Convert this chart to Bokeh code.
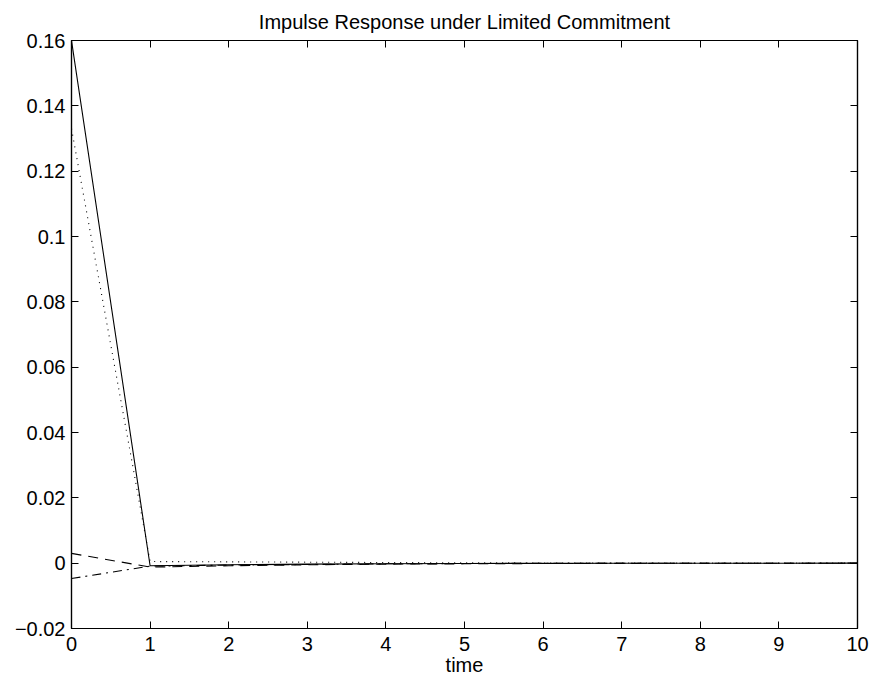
from bokeh.plotting import figure
from bokeh.models import Range1d, FixedTicker, LinearAxis
from bokeh.embed import file_html
from bokeh.resources import INLINE

time = [0, 1, 2, 3, 4, 5, 6, 7, 8, 9, 10]
solid = [0.160, -0.0008, -0.0005, -0.0003, -0.0002, -0.0001, -0.00005, -0.00003, -0.00002, -0.00001, 0.0]
dotted = [0.133, 0.0005, 0.0004, 0.0003, 0.0002, 0.0001, 0.00006, 0.00004, 0.00002, 0.00001, 0.0]
dashed = [0.003, -0.0012, -0.0008, -0.0005, -0.0003, -0.0002, -0.0001, -0.00006, -0.00003, -0.00002, -0.00001]
dashdot = [-0.0047, -0.0009, -0.0006, -0.0004, -0.0002, -0.0001, -0.00006, -0.00004, -0.00002, -0.00001, 0.0]

x_ticks = [0, 1, 2, 3, 4, 5, 6, 7, 8, 9, 10]
x_tick_labels = ["0", "1", "2", "3", "4", "5", "6", "7", "8", "9", "10"]
y_ticks = [-0.02, 0.0, 0.02, 0.04, 0.06, 0.08, 0.1, 0.12, 0.14, 0.16]
y_tick_labels = ["\u22120.02", "0", "0.02", "0.04", "0.06", "0.08", "0.1", "0.12", "0.14", "0.16"]

FONT = "Liberation Sans"

p = figure(width=875, height=681, output_backend="svg", toolbar_location=None,
           x_range=Range1d(0, 10), y_range=Range1d(-0.02, 0.16),
           title="Impulse Response under Limited Commitment",
           x_axis_label="time",
           min_border_left=71, min_border_right=18, min_border_top=40, min_border_bottom=53)
p.title.align = "center"
p.title.text_font = FONT
p.title.text_font_size = "20px"
p.title.text_font_style = "normal"
p.title.text_color = "black"
p.title.offset = 0
p.title.standoff = 16
p.xgrid.visible = False
p.ygrid.visible = False
p.outline_line_color = "black"
p.outline_line_width = 1.2
p.background_fill_color = "white"
p.border_fill_color = "white"

for ax in [p.xaxis[0], p.yaxis[0]]:
    ax.major_tick_in = 7
    ax.major_tick_out = 0
    ax.minor_tick_in = 0
    ax.minor_tick_out = 0
    ax.axis_line_color = "black"
    ax.axis_line_width = 1.2
    ax.major_tick_line_color = "black"
    ax.major_label_text_font = FONT
    ax.major_label_text_font_size = "20px"
    ax.major_label_text_color = "black"
    ax.axis_label_text_font = FONT
    ax.axis_label_text_font_size = "20px"
    ax.axis_label_text_font_style = "normal"
    ax.axis_label_text_color = "black"

p.xaxis[0].ticker = FixedTicker(ticks=x_ticks)
p.xaxis[0].major_label_overrides = dict(zip(x_ticks, x_tick_labels))
p.xaxis[0].major_label_standoff = 8
p.xaxis[0].axis_label_standoff = 0
p.yaxis[0].ticker = FixedTicker(ticks=y_ticks)
p.yaxis[0].major_label_overrides = dict(zip(y_ticks, y_tick_labels))
p.yaxis[0].major_label_standoff = 6

top = LinearAxis(ticker=FixedTicker(ticks=x_ticks),
                 major_label_overrides={t: "" for t in x_ticks},
                 major_tick_in=7, major_tick_out=0, minor_tick_in=0, minor_tick_out=0,
                 axis_line_width=1.2, major_label_standoff=0)
right = LinearAxis(ticker=FixedTicker(ticks=y_ticks),
                   major_label_overrides={t: "" for t in y_ticks},
                   major_tick_in=7, major_tick_out=0, minor_tick_in=0, minor_tick_out=0,
                   axis_line_width=1.2, major_label_standoff=0)
p.add_layout(top, "above")
p.add_layout(right, "right")

p.line(time, solid, line_color="black", line_width=1.1)
p.line(time, dotted, line_color="black", line_width=1.1, line_dash="1 5")
p.line(time, dashed, line_color="black", line_width=1.1, line_dash="10 7")
p.line(time, dashdot, line_color="black", line_width=1.1, line_dash="9 5 2 5")

open("out.html", "w").write(file_html(p, INLINE))
